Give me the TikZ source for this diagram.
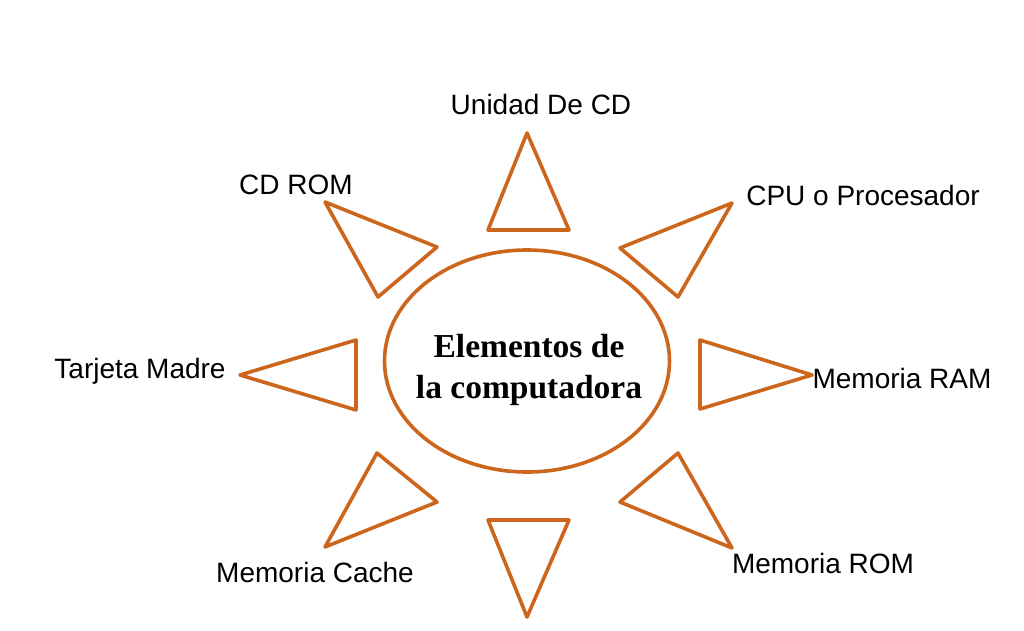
\documentclass[tikz,border=0pt]{standalone}
\usepackage{fontspec}
\setmainfont{Liberation Serif}
\newfontfamily\labelfont{Liberation Sans}
\definecolor{sunorange}{RGB}{205,102,29}
\tikzset{
  ray/.style={draw=sunorange, line width=3.6pt, line join=round},
  lbl/.style={font=\labelfont\fontsize{28}{30}\selectfont, text=black, inner sep=0pt},
  core/.style={inner sep=0pt, align=center, font=\bfseries\fontsize{33.5}{41}\selectfont}
}
\begin{document}
\begin{tikzpicture}[x=1pt,y=-1pt]
\useasboundingbox (0,0) rectangle (1024,630);
\draw[ray] (527,361) ellipse (142.5 and 111);
\node[core] (center) at (529,370) {Elementos de\\la computadora};
% triangles
\draw[ray] (527,133) -- (488,230) -- (569,230) -- cycle;
\draw[ray] (732,203) -- (620,248) -- (678,297) -- cycle;
\draw[ray] (325,202) -- (437,247) -- (378,297) -- cycle;
\draw[ray] (812,375) -- (700,340) -- (700,409) -- cycle;
\draw[ray] (240,375) -- (356,340) -- (356,410) -- cycle;
\draw[ray] (678,453) -- (620,502) -- (732,548) -- cycle;
\draw[ray] (377,453) -- (437,502) -- (325,547) -- cycle;
\draw[ray] (488,520) -- (569,520) -- (527,617) -- cycle;
% labels
\node[lbl] (cd) at (541,104) {Unidad De CD};
\node[lbl] (cdrom) at (296,185) {CD ROM};
\node[lbl] (cpu) at (863,195) {CPU o Procesador};
\node[lbl] (tm) at (140,371) {Tarjeta Madre};
\node[lbl] (ram) at (902,378) {Memoria RAM};
\node[lbl] (rom) at (823,563) {Memoria ROM};
\node[lbl] (cache) at (315,572) {Memoria Cache};
\end{tikzpicture}
\end{document}
